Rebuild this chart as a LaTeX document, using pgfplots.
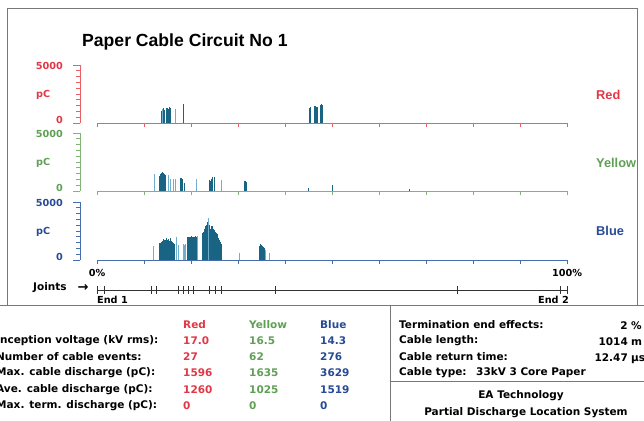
\documentclass[border=0pt]{standalone}
\usepackage{pgfplots}
\pgfplotsset{compat=1.18}
\usepackage{fontspec}
\setmainfont{DejaVu Sans}
\newfontfamily\lib{Liberation Sans}
\definecolor{cred}{RGB}{225,55,70}
\definecolor{cgreen}{RGB}{95,160,85}
\definecolor{cblue}{RGB}{40,75,150}
\definecolor{lred}{RGB}{232,95,100}
\definecolor{lgreen}{RGB}{130,180,120}
\definecolor{lblue}{RGB}{70,110,175}
\definecolor{bar}{RGB}{25,100,130}
\definecolor{barl}{RGB}{110,175,205}
\definecolor{frame}{RGB}{120,120,120}
\pgfplotsset{panel/.style={scale only axis, width=470bp, height=58bp,
  xmin=0, xmax=100, ymin=0, ymax=5000, axis x line*=bottom, axis y line=none,
  xtick={0,10,...,100}, xticklabels={}, ytick=\empty, tick align=outside,
  major tick length=4bp, clip=false, anchor=south west,
  x axis line style={-, draw=#1, line width=0.8bp},
  xtick style={draw=#1, line width=0.8bp}},
  dk/.style={ycomb, draw=bar, line width=0.65bp, mark=none},
  lt/.style={ycomb, draw=barl, line width=0.75bp, mark=none}}
\newcommand\lbl[1]{\fontsize{9.7bp}{11bp}\selectfont\bfseries #1}
\newcommand\tb[1]{\fontsize{10.5bp}{12bp}\selectfont\bfseries #1}
\begin{document}
\begin{tikzpicture}
\useasboundingbox (0,0) rectangle (644bp,-421bp);
\clip (0,0) rectangle (644bp,-421bp);
\fill[white] (0,0) rectangle (644bp,-421bp);
\begin{scope}[x=1bp,y=-1bp]
\coordinate (R) at (97,123);
\coordinate (G) at (97,191);
\coordinate (B) at (97,260);
\coordinate (J) at (97,290);
% frame and table lines
\draw[frame, line width=0.8bp] (7,8) -- (7,305);
\draw[frame, line width=0.8bp] (7,8) -- (637,8) -- (637,305);
\draw[frame, line width=0.9bp] (0,305) -- (644,305);
\draw[frame, line width=0.9bp] (390,305) -- (390,421);
\draw[frame, line width=0.9bp] (390,381) -- (644,381);
% title
\node[anchor=base west, inner sep=0pt] at (82,46) {\lib\fontsize{17.6bp}{20bp}\selectfont\bfseries Paper Cable Circuit No 1};
% y brackets
\foreach \y/\c in {123/lred,191/lgreen,260/lblue}{
  \draw[\c, line width=0.7bp] (80,\y) -- (80,\y-58);
  \foreach \k in {0,...,10}{
    \pgfmathsetmacro\w{(\k==0||\k==10)?7:4}
    \draw[\c, line width=0.7bp] (80,\y-5.8*\k) -- ++(-\w,0);
  }
}
\foreach \y/\c in {123/cred,191/cgreen,260/cblue}{
  \node[anchor=east, inner sep=0pt, text=\c] at (63,\y-57) {\lbl{5000}};
  \node[anchor=west, inner sep=0pt, text=\c] at (36,\y-28) {\lbl{pC}};
  \node[anchor=east, inner sep=0pt, text=\c] at (63,\y-3) {\lbl{0}};
}
\node[anchor=west, inner sep=0pt, text=cred] at (596,95) {\lib\fontsize{12.8bp}{14bp}\selectfont\bfseries Red};
\node[anchor=west, inner sep=0pt, text=cgreen] at (596,163) {\lib\fontsize{12.8bp}{14bp}\selectfont\bfseries Yellow};
\node[anchor=west, inner sep=0pt, text=cblue] at (596,231) {\lib\fontsize{12.8bp}{14bp}\selectfont\bfseries Blue};
% joints texts
\node[inner sep=0pt] at (97,273) {\lbl{0\%}};
\node[inner sep=0pt] at (567,273) {\lbl{100\%}};
\node[anchor=west, inner sep=0pt] at (97,300) {\lbl{End 1}};
\node[anchor=east, inner sep=0pt] at (569,300) {\lbl{End 2}};
\node[anchor=west, inner sep=0pt] at (33,288) {\fontsize{10.5bp}{12bp}\selectfont\bfseries Joints};
\node[inner sep=0pt] at (83,288) {\fontsize{13bp}{13bp}\selectfont\bfseries →};
% left table
\foreach \t/\c/\x in {Red/cred/183, Yellow/cgreen/249, Blue/cblue/320}{
  \node[anchor=west, inner sep=0pt, text=\c] at (\x,325) {\tb{\t}};
}
\node[anchor=west, inner sep=0pt] at (-4,341) {\tb{Inception voltage (kV rms):}};
\node[anchor=west, inner sep=0pt] at (-4,357) {\tb{Number of cable events:}};
\node[anchor=west, inner sep=0pt] at (-4,373) {\tb{Max. cable discharge (pC):}};
\node[anchor=west, inner sep=0pt] at (-4,390) {\tb{Ave. cable discharge (pC):}};
\node[anchor=west, inner sep=0pt] at (-4,406) {\tb{Max. term. discharge (pC):}};
\foreach \y/\a/\b/\d in {341/17.0/16.5/14.3, 357/27/62/276, 373/1596/1635/3629, 390/1260/1025/1519, 406/0/0/0}{
  \node[anchor=west, inner sep=0pt, text=cred] at (183,\y) {\tb{\a}};
  \node[anchor=west, inner sep=0pt, text=cgreen] at (249,\y) {\tb{\b}};
  \node[anchor=west, inner sep=0pt, text=cblue] at (320,\y) {\tb{\d}};
}
% right table
\node[anchor=west, inner sep=0pt] at (399,325) {\tb{Termination end effects:}};
\node[anchor=west, inner sep=0pt] at (399,341) {\tb{Cable length:}};
\node[anchor=west, inner sep=0pt] at (399,357) {\tb{Cable return time:}};
\node[anchor=west, inner sep=0pt] at (399,373) {\tb{Cable type:}};
\node[anchor=west, inner sep=0pt] at (476,373) {\tb{33kV 3 Core Paper}};
\node[anchor=base east, inner sep=0pt] at (628,329) {\tb{2}};
\node[anchor=base east, inner sep=0pt] at (628,345) {\tb{1014}};
\node[anchor=base east, inner sep=0pt] at (628,361) {\tb{12.47}};
\node[anchor=base west, inner sep=0pt] at (631,329) {\tb{\%}};
\node[anchor=base west, inner sep=0pt] at (631,345) {\tb{m}};
\node[anchor=base west, inner sep=0pt] at (631,361) {\tb{µs}};
\node[inner sep=0pt] at (521,396) {\tb{EA Technology}};
\node[inner sep=0pt] at (526,413) {\tb{Partial Discharge Location System}};
\end{scope}
% ---------- Red panel
\begin{axis}[panel=lred, at={(R)}]
\addplot[dk] coordinates {(13.6,1000) (13.7,920) (13.9,1200) (14.2,1290) (14.3,1150) (14.7,1230) (14.8,1280) (15.0,1300) (15.1,1220) (15.3,1350) (15.4,1260) (15.6,1310) (18.3,1560) (18.4,1596)
 (45.2,1300) (45.4,1340) (46.2,1480) (46.4,1500) (46.7,1420) (46.9,1380) (47.6,1560) (47.7,1596) (47.9,1530) (48.0,1450)};
\addplot[lt] coordinates {(14.0,1250) (16.7,1180)};
\end{axis}
% ---------- Yellow panel
\begin{axis}[panel=lgreen, at={(G)}]
\addplot[dk] coordinates {(13.3,1300) (13.4,1450) (13.5,1380) (13.6,1500) (13.7,1560) (13.8,1635) (13.9,1600) (14.0,1540) (14.1,1480) (14.2,1520) (14.3,1450) (14.4,1400) (14.5,1350) (14.6,1300)
 (17.7,1100) (17.8,1050) (17.9,1120) (18.1,1000) (18.5,720)
 (23.9,900) (24.0,950) (24.2,870) (24.4,1000) (24.5,1230) (24.6,1100) (25.0,1200)
 (31.4,880) (31.6,840) (31.7,800) (45.0,280) (50.0,520) (66.4,180)};
\addplot[lt] coordinates {(12.3,1490) (15.2,1350) (15.7,1060) (16.2,1010) (16.7,1000) (21.2,1060) (26.5,950)};
\end{axis}
% ---------- Blue panel
\begin{axis}[panel=lblue, at={(B)}]
\addplot[dk] coordinates {(13.2,1440) (13.3,1350) (13.4,1500) (13.5,1420) (13.6,1580) (13.7,1480) (13.8,1550) (13.9,1400) (14.0,1650) (14.1,1500) (14.2,1810) (14.3,1600) (14.4,1700) (14.5,1550) (14.6,1750) (14.7,1870) (14.8,1650) (14.9,1720) (15.0,1600) (15.1,1780) (15.2,1720) (15.3,1550) (15.4,1680) (15.5,1800) (15.6,1930) (15.7,1700) (15.8,1580) (15.9,1650) (16.0,1450) (16.1,1580) (16.2,1500) (16.3,1300) (16.4,1420) (16.5,1300)
 (19.3,1950) (19.4,1980) (19.5,2000) (19.6,1950) (19.7,2020) (19.8,1990) (19.9,2000) (20.0,1960) (20.1,2030) (20.2,1980) (20.3,2000) (20.4,1950) (20.5,2010) (20.6,1990) (20.7,2000) (20.8,1970) (20.9,2040) (21.0,1980) (21.1,2000) (21.2,1960) (21.3,2010)
 (22.5,2300) (22.6,2100) (22.7,2450) (22.8,2650) (22.9,2500) (23.0,2800) (23.1,2950) (23.2,2700) (23.3,3000) (23.4,2850) (23.5,3300) (23.7,3100) (23.8,2900) (23.9,2800) (24.0,3050) (24.1,2700) (24.2,2600) (24.3,2550) (24.4,2900) (24.5,2950) (24.6,2800) (24.7,2650) (24.8,2700) (24.9,2500) (25.0,2600) (25.1,2400) (25.2,2450) (25.3,2300) (25.4,2200) (25.5,2100) (25.6,2250) (25.7,2000) (25.8,1900) (25.9,1850) (26.0,1700) (26.1,1600) (26.2,1500) (26.3,1550) (26.4,1400)
 (34.5,1150) (34.6,1250) (34.7,1290) (34.8,1350) (34.9,1300) (35.0,1250) (35.2,1200) (35.4,1100) (35.6,1050)};
\addplot[lt] coordinates {(12.1,1240) (16.9,2010) (17.4,1300) (18.3,1360) (18.6,1330) (18.9,1360) (21.4,2050) (23.6,3629) (30.3,630) (35.9,900) (36.7,575)};
\end{axis}
% ---------- Joints
\begin{axis}[scale only axis, width=470bp, height=10bp, xmin=0, xmax=100, ymin=-1, ymax=1, hide axis, clip=false, anchor=west, at={(J)}]
\addplot[black!80, line width=0.6bp] coordinates {(0,0) (100,0)};
\addplot[black!80, only marks, mark=|, mark size=4bp, mark options={line width=0.8bp}] coordinates {(0,0) (1.6,0) (11.6,0) (12.7,0) (17.3,0) (18.4,0) (19.5,0) (20.6,0) (23.9,0) (25.1,0) (26.4,0) (37.9,0) (76.6,0) (98.6,0) (100,0)};
\end{axis}
\end{tikzpicture}
\end{document}
